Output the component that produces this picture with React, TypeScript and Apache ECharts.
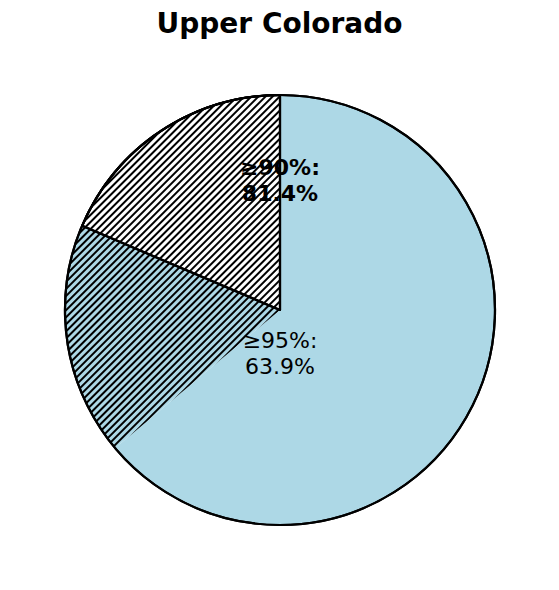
import React, { useEffect, useRef } from "react";
import * as echarts from "echarts";

const title = "Upper Colorado";
const sliceNames = ["≥95%", "90–95%", "<90%"];
const sliceValues = [63.9, 17.5, 18.6];
const sliceColors = ["#add8e6", "#add8e6", "#ffffff"];
const sliceHatched = [false, true, true];
const sliceEdged = [false, false, true];
const labelTexts = ["≥95%:\n63.9%", "≥90%:\n81.4%"];

export default function App() {
  const ref = useRef<HTMLDivElement>(null);
  useEffect(() => {
    if (!ref.current) return;
    const chart = echarts.init(ref.current, undefined, { renderer: "svg" });
    const hatch = {
      symbol: "rect",
      symbolSize: 1,
      dashArrayX: [[1, 0]],
      dashArrayY: [1.3, 2.7],
      rotation: -Math.PI / 4,
      color: "#000000",
    };
    chart.setOption({
      animation: false,
      backgroundColor: "#ffffff",
      title: {
        text: title,
        left: "center",
        top: 4,
        textStyle: { fontFamily: "DejaVu Sans", fontWeight: "bold", fontSize: 28, color: "#000" },
      },
      series: [
        {
          type: "pie",
          center: [280, 310],
          radius: 215,
          startAngle: 90,
          clockwise: true,
          label: { show: false },
          labelLine: { show: false },
          silent: true,
          data: sliceValues.map((v, i) => ({
            name: sliceNames[i],
            value: v,
            itemStyle: {
              color: sliceColors[i],
              borderColor: "#000",
              borderWidth: sliceEdged[i] ? 2.2 : 0,
              decal: sliceHatched[i] ? hatch : { symbol: "none" },
            },
          })),
        },
        {
          type: "pie",
          center: [280, 310],
          radius: 215,
          z: 3,
          silent: true,
          label: { show: false },
          labelLine: { show: false },
          data: [
            {
              name: "outline",
              value: 1,
              itemStyle: { color: "rgba(0,0,0,0)", borderColor: "#000", borderWidth: 2.2, decal: { symbol: "none" } },
            },
          ],
        },
      ],
      graphic: [
        {
          type: "text",
          z: 100,
          x: 280,
          y: 353,
          style: {
            text: labelTexts[0],
            fontFamily: "DejaVu Sans",
            fontSize: 22,
            lineHeight: 26,
            fill: "#000",
            align: "center",
            verticalAlign: "middle",
          },
        },
        {
          type: "text",
          z: 100,
          x: 280,
          y: 180,
          style: {
            text: labelTexts[1],
            fontFamily: "DejaVu Sans",
            fontWeight: "bold",
            fontSize: 22,
            lineHeight: 26,
            fill: "#000",
            align: "center",
            verticalAlign: "middle",
          },
        },
      ],
    });
    return () => chart.dispose();
  }, []);
  return <div ref={ref} style={{ width: 559, height: 590, position: "absolute", left: 0, top: 0 }} />;
}
